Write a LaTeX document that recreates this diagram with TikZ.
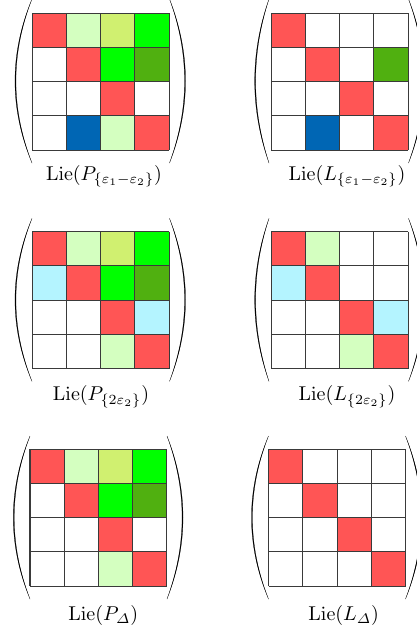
\documentclass[tikz,border=0pt]{standalone}
\usepackage{amsmath}
\definecolor{cR}{HTML}{FF5555}
\definecolor{cLG}{HTML}{D4FFC0}
\definecolor{cYG}{HTML}{D0F070}
\definecolor{cG}{HTML}{00FF00}
\definecolor{cDG}{HTML}{50B010}
\definecolor{cB}{HTML}{0066B4}
\definecolor{cC}{HTML}{B4F4FF}
\definecolor{cW}{HTML}{FFFFFF}
\definecolor{gridc}{HTML}{3A3A3A}
\newcommand\cellmat[3]{%
  \foreach \c [count=\i from 0] in {#3} {
    \pgfmathtruncatemacro\cc{mod(\i,4)}
    \pgfmathtruncatemacro\rr{floor(\i/4)}
    \fill[\c] ({#1+\cc*34.2},{#2+\rr*34.2}) rectangle ++(34.2,34.2);
  }
  \foreach \k in {0,...,4} {
    \draw[gridline] ({#1+\k*34.2},#2) -- ++(0,136.8);
    \draw[gridline] (#1,{#2+\k*34.2}) -- ++(136.8,0);
  }
}
% #1 end x, #2 outer mid x, #3 inner mid x, #4 top y, #5 bottom y
\newcommand\parenshape[5]{%
  \pgfmathsetmacro\ha{#4+(#5-#4)/3}
  \pgfmathsetmacro\hb{#4+2*(#5-#4)/3}
  \pgfmathsetmacro\co{(8*#2-2*#1)/6}
  \pgfmathsetmacro\ci{(8*#3-2*#1)/6}
  \filldraw[parenline] (#1,#4) .. controls (\co,\ha) and (\co,\hb) .. (#1,#5)
     .. controls (\ci,\hb) and (\ci,\ha) .. (#1,#4) -- cycle;
}
\begin{document}
\begin{tikzpicture}[x=0.5pt,y=-0.5pt,
  gridline/.style={draw=gridc,line width=0.55pt},
  parenline/.style={fill=black,draw=black,line width=0.12pt},
  lab/.style={font=\fontsize{10}{12}\selectfont,anchor=base,inner sep=0pt}]
\useasboundingbox (0,0) rectangle (417,633);
\clip (0,0) rectangle (417,633);
% ---- Row 1
\cellmat{32.3}{13.3}{cR,cLG,cYG,cG, cW,cR,cG,cDG, cW,cW,cR,cW, cW,cB,cLG,cR}
\parenshape{32}{15}{15.9}{-1}{163}
\parenshape{169.5}{185.5}{184.6}{-1}{163}
\node[lab] (l1) at (104,180) {$\mathrm{Lie}(P_{\{\varepsilon_1-\varepsilon_2\}})$};
\cellmat{271.3}{13.3}{cR,cW,cW,cW, cW,cR,cW,cDG, cW,cW,cR,cW, cW,cB,cW,cR}
\parenshape{269}{254.7}{255.6}{-1}{163}
\parenshape{408.5}{424.5}{423.6}{-1}{163}
\node[lab] (l2) at (347,180) {$\mathrm{Lie}(L_{\{\varepsilon_1-\varepsilon_2\}})$};
% ---- Row 2
\cellmat{32.3}{231.7}{cR,cLG,cYG,cG, cC,cR,cG,cDG, cW,cW,cR,cC, cW,cW,cLG,cR}
\parenshape{32}{15}{15.9}{218.4}{381.4}
\parenshape{169.5}{185.5}{184.6}{218.4}{381.4}
\node[lab] (l3) at (101,400.5) {$\mathrm{Lie}(P_{\{2\varepsilon_2\}})$};
\cellmat{271.3}{231.7}{cR,cLG,cW,cW, cC,cR,cW,cW, cW,cW,cR,cC, cW,cW,cLG,cR}
\parenshape{269}{254.7}{255.6}{218.4}{381.4}
\parenshape{408.5}{424.5}{423.6}{218.4}{381.4}
\node[lab] (l4) at (347,400.5) {$\mathrm{Lie}(L_{\{2\varepsilon_2\}})$};
% ---- Row 3
\cellmat{30}{449.3}{cR,cLG,cYG,cG, cW,cR,cG,cDG, cW,cW,cR,cW, cW,cW,cLG,cR}
\parenshape{30}{13.3}{14.2}{436}{599}
\parenshape{167}{183}{182.1}{436}{599}
\node[lab] (l5) at (103.3,620) {$\mathrm{Lie}(P_{\varDelta})$};
\cellmat{268.7}{449.3}{cR,cW,cW,cW, cW,cR,cW,cW, cW,cW,cR,cW, cW,cW,cW,cR}
\parenshape{268.5}{251.5}{252.4}{436}{599}
\parenshape{405.5}{422}{421.1}{436}{599}
\node[lab] (l6) at (343.7,620) {$\mathrm{Lie}(L_{\varDelta})$};
\end{tikzpicture}
\end{document}
